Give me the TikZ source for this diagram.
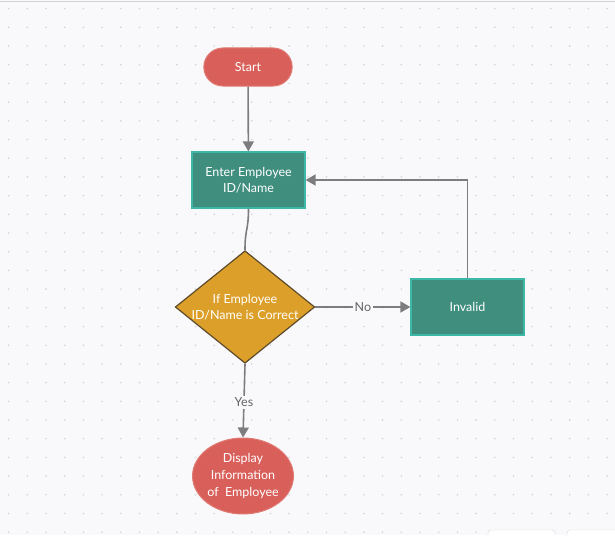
\documentclass[tikz,border=0pt]{standalone}
\usepackage{fontspec}
\setmainfont{Lato}
\usetikzlibrary{arrows.meta,shapes.geometric,shapes.misc,calc}

\definecolor{canvas}{HTML}{F9F9FB}
\definecolor{griddot}{HTML}{D2D3D8}
\definecolor{redfill}{HTML}{D95F5A}
\definecolor{redline}{HTML}{E07A74}
\definecolor{tealfill}{HTML}{3F8E7E}
\definecolor{tealline}{HTML}{3DB8A6}
\definecolor{goldfill}{HTML}{DCA02A}
\definecolor{goldline}{HTML}{5E4B2B}
\definecolor{wire}{HTML}{7D7D7F}

\tikzset{
  terminal/.style={rounded rectangle, fill=redfill, draw=redline, line width=1pt,
    minimum width=95pt, minimum height=38pt, text=white, font=\fontsize{12.5}{14}\selectfont},
  process/.style={rectangle, fill=tealfill, draw=tealline, line width=1.2pt,
    minimum width=113pt, minimum height=56pt, text=white, align=center,
    font=\fontsize{12.5}{16}\selectfont},
  decision/.style={diamond, fill=goldfill, draw=goldline, line width=1.2pt,
    minimum width=136pt, minimum height=110pt, aspect=1.24, inner sep=0pt,
    text=white, align=center, font=\fontsize{12.5}{16.5}\selectfont},
  output/.style={ellipse, fill=redfill, draw=redline, line width=1pt,
    minimum width=96pt, minimum height=76pt, inner sep=0pt, text=white, align=center,
    font=\fontsize{12.5}{17}\selectfont},
  flow/.style={draw=wire, line width=1.6pt,
    -{Triangle[length=10pt,width=11pt]}},
  link/.style={draw=wire, line width=1.6pt},
  edgelabel/.style={fill=canvas, text=wire!80!black, inner sep=2pt,
    font=\fontsize{12.5}{14}\selectfont},
}

\begin{document}
\begin{tikzpicture}[x=1pt, y=-1pt]
  % canvas and dotted grid
  \fill[canvas] (0,0) rectangle (615,535);
  \useasboundingbox (0,0) rectangle (615,535);
  \foreach \i in {0,...,32} {
    \foreach \j in {0,...,28} {
      \fill[griddot] ({8.6+18.7*\i},{8.6+18.7*\j}) circle (0.9pt);
    }
  }
  \draw[gray!35, line width=0.8pt] (0,1.5) -- (615,1.5);
  % toolbar buttons at the lower edge
  \draw[gray!30, fill=white, rounded corners=3pt] (488,530) rectangle (555,545);
  \draw[gray!30, fill=white, rounded corners=3pt] (567,530) rectangle (630,545);

  % nodes
  \node[terminal] (start) at (248,67) {Start};
  \node[process] (enter) at (248.5,180) {Enter Employee\\ID/Name};
  \node[decision] (check) at (245,307) {If Employee\\ID/Name is Correct};
  \node[process] (invalid) at (467.5,307) {Invalid};
  \node[output] (show) at (243,476) {Display\\Information\\of\ \ Employee};

  % connectors
  \draw[flow] (start) -- (enter);
  \draw[link] (enter.south) .. controls ($(enter.south)+(0,22)$) and ($(check.north)+(0,-22)$) .. (check.north);
  \draw[flow] (check.east) -- node[edgelabel] {No} (invalid.west);
  \draw[flow] (invalid.north) |- (enter.east);
  \draw[flow] (check.south) -- node[edgelabel, pos=0.52] {Yes} (show.north);
\end{tikzpicture}
\end{document}
